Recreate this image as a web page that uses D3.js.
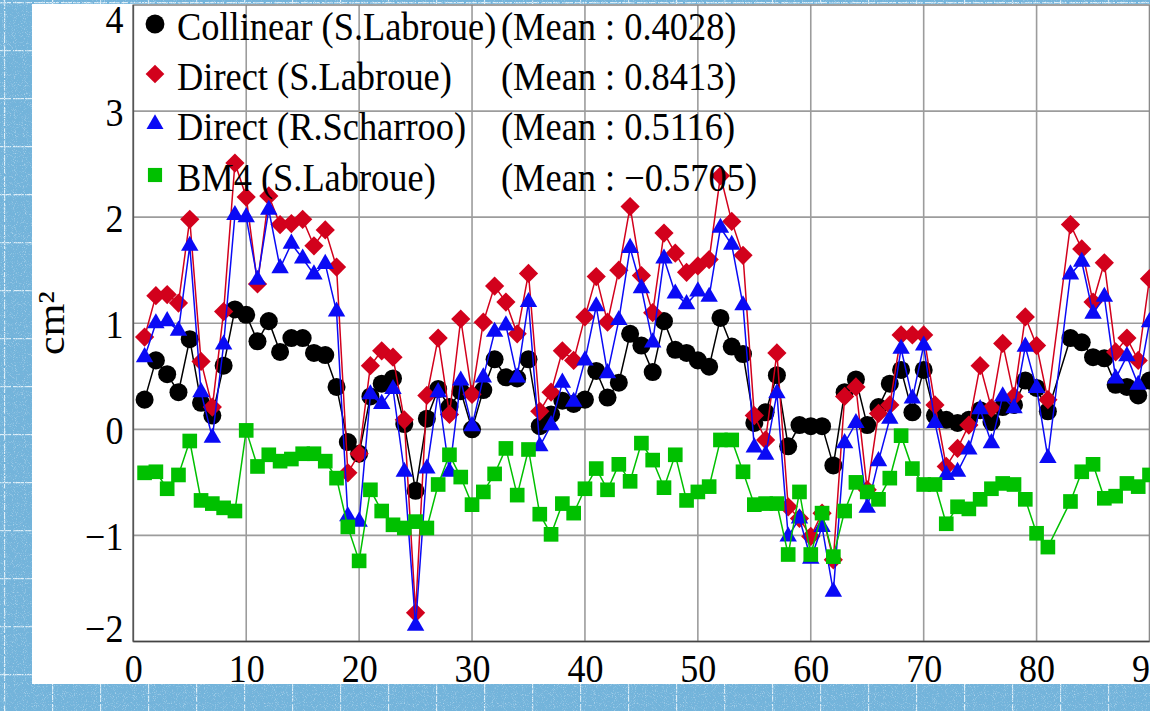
<!DOCTYPE html>
<html>
<head>
<meta charset="utf-8">
<script src="https://cdn.jsdelivr.net/npm/d3@7"></script>
<style>
  html, body { margin: 0; padding: 0; overflow: hidden; background: #70b4dc; }
  svg { display: block; }
  text { font-family: "Liberation Serif", "Times New Roman", serif; fill: #000; }
</style>
</head>
<body>
<svg id="chart" width="1150" height="711"></svg>
<script>
// Cycle numbers (x) and per-cycle values, cm²
const cycles = d3.range(1, 91);
const collinear = [0.28,0.65,0.52,0.35,0.85,0.25,0.13,0.60,1.13,1.08,
  0.83,1.02,0.73,0.86,0.86,0.72,0.70,0.40,-0.12,-0.23,
  0.31,0.43,0.48,0.05,-0.58,0.10,0.38,0.21,0.36,0.00,
  0.37,0.66,0.49,0.48,0.66,0.03,0.14,0.27,0.24,0.28,
  0.55,0.30,0.44,0.90,0.79,0.54,1.02,0.75,0.72,0.65,
  0.59,1.05,0.78,0.71,0.06,0.16,0.51,-0.16,0.04,0.03,
  0.03,-0.34,0.35,0.47,0.04,0.21,0.43,0.56,0.16,0.56,
  0.13,0.09,0.06,0.09,0.18,0.07,0.21,0.23,0.46,0.39,
  0.17,null,0.86,0.82,0.68,0.67,0.42,0.40,0.32,0.46];
const directLabroue = [0.87,1.26,1.27,1.19,1.98,0.64,0.21,1.11,2.51,2.19,
  1.37,2.20,1.93,1.94,1.98,1.73,1.88,1.53,-0.41,-0.23,
  0.60,0.74,0.68,0.09,-1.73,0.32,0.86,0.14,1.04,0.33,
  1.01,1.35,1.20,0.90,1.47,0.17,0.35,0.74,0.65,1.06,
  1.44,1.01,1.50,2.10,1.45,1.10,1.85,1.66,1.48,1.54,
  1.60,2.39,1.96,1.64,0.13,-0.10,0.72,-0.73,-0.84,-1.01,
  -0.79,-1.23,0.31,0.40,-0.57,0.15,0.23,0.89,0.89,0.89,
  0.23,-0.35,-0.18,0.04,0.60,0.20,0.81,0.31,1.06,0.79,
  0.28,null,1.93,1.70,1.20,1.57,0.73,0.86,0.65,1.42];
const directScharroo = [0.68,1.00,1.02,0.93,1.73,0.35,-0.08,0.80,2.02,2.00,
  1.41,2.07,1.52,1.75,1.61,1.46,1.56,1.11,-0.82,-0.87,
  0.33,0.24,0.38,-0.40,-1.85,-0.37,0.35,-0.40,0.46,0.03,
  0.49,0.92,0.98,0.49,1.20,-0.16,0.04,0.44,0.26,0.65,
  1.16,0.53,1.03,1.71,1.33,0.82,1.61,1.28,1.18,1.30,
  1.25,1.90,1.74,1.17,-0.17,-0.24,0.34,-1.01,-0.84,-1.22,
  -0.92,-1.53,-0.13,0.06,-0.74,-0.30,0.10,0.76,0.29,0.79,
  0.06,-0.43,-0.40,-0.19,0.19,-0.13,0.31,0.20,0.78,0.39,
  -0.27,null,1.46,1.58,1.09,1.25,0.48,0.69,0.42,1.01];
const bm4 = [-0.41,-0.40,-0.56,-0.43,-0.11,-0.67,-0.70,-0.74,-0.77,-0.01,
  -0.35,-0.24,-0.30,-0.28,-0.23,-0.23,-0.30,-0.46,-0.92,-1.24,
  -0.57,-0.77,-0.90,-0.93,-0.87,-0.93,-0.52,-0.24,-0.45,-0.71,
  -0.59,-0.42,-0.18,-0.62,-0.19,-0.80,-0.99,-0.70,-0.79,-0.56,
  -0.37,-0.57,-0.33,-0.49,-0.13,-0.29,-0.55,-0.24,-0.67,-0.59,
  -0.54,-0.10,-0.10,-0.40,-0.71,-0.70,-0.70,-1.18,-0.59,-1.18,
  -0.79,-1.20,-0.77,-0.50,-0.59,-0.66,-0.46,-0.06,-0.37,-0.52,
  -0.52,-0.89,-0.73,-0.75,-0.66,-0.56,-0.51,-0.52,-0.66,-0.98,
  -1.11,null,-0.68,-0.40,-0.33,-0.65,-0.63,-0.51,-0.54,-0.43];

const seriesNames = ["Collinear (S.Labroue)", "Direct (S.Labroue)", "Direct (R.Scharroo)", "BM4 (S.Labroue)"];
const seriesMeans = ["(Mean : 0.4028)", "(Mean : 0.8413)", "(Mean : 0.5116)", "(Mean : \u22120.5705)"];
const xTicks = [0, 10, 20, 30, 40, 50, 60, 70, 80, 90];
const yTicks = [-2, -1, 0, 1, 2, 3, 4];
const yTitle = "cm\u00B2";

const W = 1150, H = 711;
const svg = d3.select("#chart");
const defs = svg.append("defs");

// Blue speckled wallpaper behind the panel
const pat = defs.append("pattern").attr("id", "tile").attr("patternUnits", "userSpaceOnUse")
  .attr("width", 48).attr("height", 48).attr("x", 4).attr("y", 2);
pat.append("rect").attr("width", 48).attr("height", 48).attr("fill", "#72b4db");
pat.append("path").attr("d", "M0,0.5H48M0.5,0V48").attr("stroke", "#dff0f9").attr("stroke-width", 1.3)
  .attr("stroke-dasharray", "7,2,11,1").attr("fill", "none");

const fDark = defs.append("filter").attr("id", "speckleDark").attr("x", 0).attr("y", 0).attr("width", 1).attr("height", 1);
fDark.append("feTurbulence").attr("type", "fractalNoise").attr("baseFrequency", 1.1).attr("numOctaves", 1).attr("seed", 7);
fDark.append("feColorMatrix").attr("type", "matrix")
  .attr("values", "0 0 0 0 0.2  0 0 0 0 0.45  0 0 0 0 0.7  4 0 0 0 -1.9");
const fLight = defs.append("filter").attr("id", "speckleLight").attr("x", 0).attr("y", 0).attr("width", 1).attr("height", 1);
fLight.append("feTurbulence").attr("type", "fractalNoise").attr("baseFrequency", 1.1).attr("numOctaves", 1).attr("seed", 19);
fLight.append("feColorMatrix").attr("type", "matrix")
  .attr("values", "0 0 0 0 0.75  0 0 0 0 0.88  0 0 0 0 0.96  4 0 0 0 -2.2");

svg.append("rect").attr("width", W).attr("height", H).attr("fill", "url(#tile)");
svg.append("rect").attr("width", W).attr("height", H).attr("filter", "url(#speckleDark)").attr("opacity", 0.85);
svg.append("rect").attr("width", W).attr("height", H).attr("filter", "url(#speckleLight)").attr("opacity", 0.5);

// White panel
svg.append("rect").attr("x", 32).attr("y", 4).attr("width", W - 32).attr("height", 680).attr("fill", "#fff");

const x = d3.scaleLinear().domain([0, 90]).range([133.3, 1149.5]);
const y = d3.scaleLinear().domain([-2, 4]).range([641.5, 5]);

// Grid
const grid = svg.append("g").attr("stroke", "#9c9c9c").attr("stroke-width", 1.6);
grid.selectAll("line.v").data(xTicks.slice(1, -1)).join("line")
  .attr("x1", d => x(d)).attr("x2", d => x(d)).attr("y1", y(4)).attr("y2", y(-2));
grid.selectAll("line.h").data(yTicks.slice(1, -1)).join("line")
  .attr("x1", x(0)).attr("x2", x(90)).attr("y1", d => y(d)).attr("y2", d => y(d));
svg.append("rect").attr("x", x(0)).attr("y", y(4)).attr("width", x(90) - x(0)).attr("height", y(-2) - y(4))
  .attr("fill", "none").attr("stroke", "#8a8a8a").attr("stroke-width", 1.6);
svg.append("line").attr("x1", x(0)).attr("x2", x(0)).attr("y1", y(4)).attr("y2", y(-2)).attr("stroke", "#555").attr("stroke-width", 1.6);
svg.append("line").attr("x1", x(0)).attr("x2", x(90)).attr("y1", y(-2)).attr("y2", y(-2)).attr("stroke", "#444").attr("stroke-width", 1.6);

// Axes (labels only)
const fmt = d => d < 0 ? "\u2212" + Math.abs(d) : String(d);
const gx = svg.append("g").attr("transform", `translate(0,${y(-2)})`)
  .call(d3.axisBottom(x).tickValues(xTicks).tickSize(0).tickPadding(13).tickFormat(fmt));
const gy = svg.append("g").attr("transform", `translate(${x(0)},0)`)
  .call(d3.axisLeft(y).tickValues(yTicks).tickSize(0).tickPadding(11).tickFormat(fmt));
[gx, gy].forEach(g => {
  g.attr("font-family", null).attr("font-size", null);
  g.select(".domain").remove();
  g.selectAll("text").attr("font-size", 40).attr("fill", "#000");
});
gx.selectAll("text").attr("dy", "0.69em").attr("transform", "scale(0.9,1)");
gy.selectAll("text").attr("dy", d => d === 4 ? "0.69em" : d === -2 ? "0.0em" : "0.35em")
  .attr("transform", "scale(0.9,1)");

svg.append("text").attr("transform", "translate(64,323) rotate(-90) scale(1,0.9)")
  .attr("text-anchor", "middle").attr("font-size", 42).text(yTitle);

// Series
const series = [
  { values: collinear, color: "#000000", shape: "circle" },
  { values: directLabroue, color: "#d2011c", shape: "diamond" },
  { values: directScharroo, color: "#0a0af5", shape: "triangle" },
  { values: bm4, color: "#00c000", shape: "square" }
];
const symbolPath = {
  circle: d3.symbol(d3.symbolCircle, 255)(),
  diamond: d3.symbol(d3.symbolSquare, 185)(),
  triangle: d3.symbol(d3.symbolTriangle, 132)(),
  square: d3.symbol(d3.symbolSquare, 215)()
};
const symbolRot = { circle: 0, diamond: 45, triangle: 0, square: 0 };
const line = d3.line().x(d => x(d[0])).y(d => y(d[1]));

series.forEach(s => {
  const pts = cycles.map((c, i) => [c, s.values[i]]).filter(p => p[1] != null);
  const g = svg.append("g");
  g.append("path").datum(pts).attr("d", line).attr("fill", "none")
    .attr("stroke", s.color).attr("stroke-width", 1.5);
  g.selectAll("path.m").data(pts).join("path").attr("class", "m")
    .attr("d", symbolPath[s.shape])
    .attr("transform", d => `translate(${x(d[0])},${y(d[1])}) rotate(${symbolRot[s.shape]})`)
    .attr("fill", s.color);
});

// Legend
const legendBase = [40, 90, 140, 191];
const legendSym = {
  circle: d3.symbol(d3.symbolCircle, 280)(),
  diamond: d3.symbol(d3.symbolSquare, 175)(),
  triangle: d3.symbol(d3.symbolTriangle, 125)(),
  square: d3.symbol(d3.symbolSquare, 200)()
};
const lg = svg.append("g");
series.forEach((s, i) => {
  lg.append("path").attr("d", legendSym[s.shape])
    .attr("transform", `translate(155,${legendBase[i] - 16}) rotate(${symbolRot[s.shape]})`)
    .attr("fill", s.color);
  lg.append("text").attr("transform", `translate(177,${legendBase[i]}) scale(0.91,1)`)
    .attr("font-size", 40).text(seriesNames[i]);
  lg.append("text").attr("transform", `translate(501,${legendBase[i]}) scale(0.91,1)`)
    .attr("font-size", 40).text(seriesMeans[i]);
});
</script>
</body>
</html>
